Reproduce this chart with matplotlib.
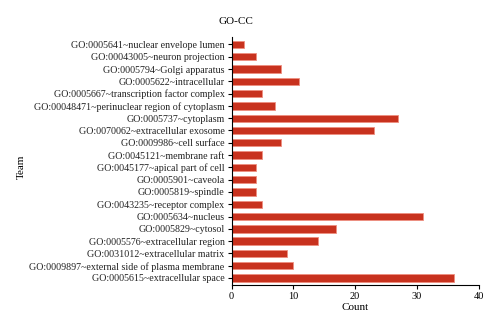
import matplotlib
matplotlib.use("Agg")
import matplotlib.pyplot as plt
import numpy as np

terms = [
    "GO:0005641~nuclear envelope lumen",
    "GO:00043005~neuron projection",
    "GO:0005794~Golgi apparatus",
    "GO:0005622~intracellular",
    "GO:0005667~transcription factor complex",
    "GO:00048471~perinuclear region of cytoplasm",
    "GO:0005737~cytoplasm",
    "GO:0070062~extracellular exosome",
    "GO:0009986~cell surface",
    "GO:0045121~membrane raft",
    "GO:0045177~apical part of cell",
    "GO:0005901~caveola",
    "GO:0005819~spindle",
    "GO:0043235~receptor complex",
    "GO:0005634~nucleus",
    "GO:0005829~cytosol",
    "GO:0005576~extracellular region",
    "GO:0031012~extracellular matrix",
    "GO:0009897~external side of plasma membrane",
    "GO:0005615~extracellular space",
]
counts = [2, 4, 8, 11, 5, 7, 27, 23, 8, 5, 4, 4, 4, 5, 31, 17, 14, 9, 10, 36]

plt.rcParams['font.family'] = ['Liberation Serif', 'DejaVu Serif']

fig = plt.figure(figsize=(5, 3.28), dpi=100)
ax = fig.add_axes([0.463, 0.13, 0.494, 0.757])

y = np.arange(len(terms))[::-1]
ax.barh(y, counts, height=0.6, color='#c8321e', edgecolor='#ee8f80', linewidth=0.6)

ax.set_yticks(y)
ax.set_yticklabels(terms, fontsize=7.2, color='#222222')
ax.set_ylim(-0.6, len(terms) - 0.4)
ax.set_xlim(0, 40)
ax.set_xticks([0, 10, 20, 30, 40])
ax.tick_params(axis='x', labelsize=7.5, length=3, width=0.8, pad=2)
ax.tick_params(axis='y', length=3, width=0.8, pad=2)
ax.set_xlabel('Count', fontsize=8, labelpad=1)
ax.spines['top'].set_visible(False)
ax.spines['right'].set_visible(False)
ax.spines['left'].set_linewidth(0.8)
ax.spines['bottom'].set_linewidth(0.8)

fig.text(0.042, 0.49, 'Team', rotation=90, fontsize=8, va='center', ha='center')
fig.text(0.472, 0.935, 'GO-CC', fontsize=8, ha='center', va='center')

fig.savefig('out.png', dpi=100)
